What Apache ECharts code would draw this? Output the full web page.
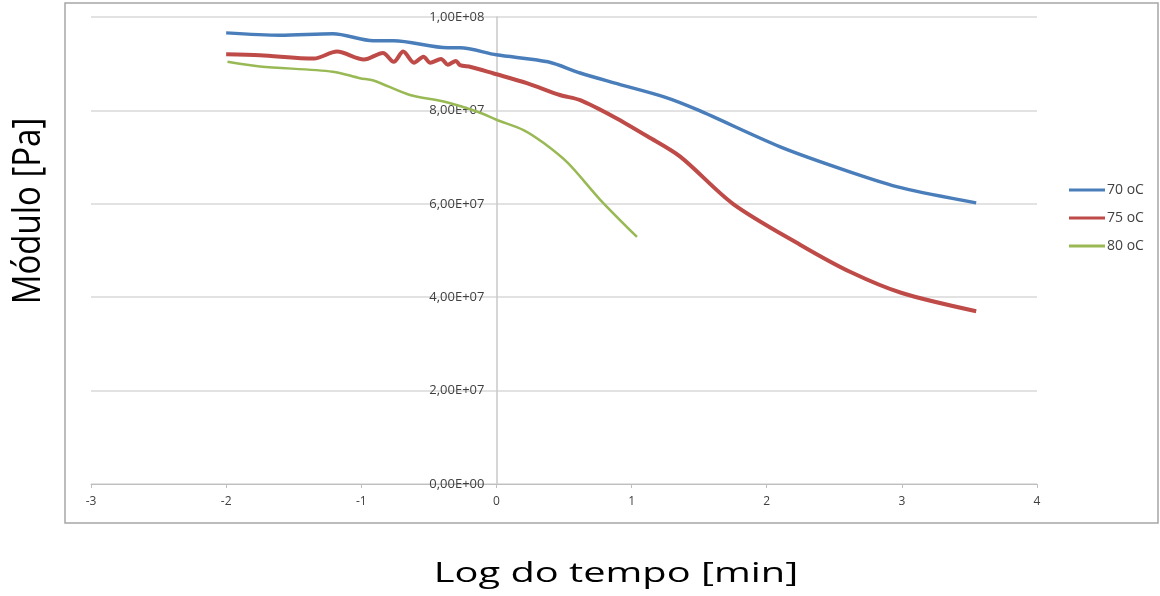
<!DOCTYPE html>
<html>
<head>
<meta charset="utf-8">
<script src="https://cdn.jsdelivr.net/npm/echarts@6/dist/echarts.min.js"></script>
<style>
  html, body { margin: 0; padding: 0; background: #fff; }
  #chart { width: 1160px; height: 596px; }
</style>
</head>
<body>
<div id="chart"></div>
<script>
// curvas: [log do tempo, módulo em 1e6 Pa]
const serie70 = [
    [-2.0, 96.6], [-1.6, 96.1], [-1.21, 96.4], [-0.91, 94.9], [-0.76, 94.9],
    [-0.36, 93.4], [-0.27, 93.4], [0.0, 91.9], [0.38, 90.4], [0.62, 88.0],
    [0.87, 85.9], [1.24, 82.9], [1.49, 80.1], [2.10, 72.2], [2.62, 66.8],
    [3.0, 63.4], [3.55, 60.2]
];
const serie75 = [
    [-2.0, 92.0], [-1.75, 91.8], [-1.35, 91.1], [-1.18, 92.6], [-0.98, 90.9],
    [-0.84, 92.3], [-0.76, 90.4], [-0.69, 92.6], [-0.61, 90.2], [-0.54, 91.5],
    [-0.49, 90.2], [-0.41, 91.0], [-0.36, 89.8], [-0.30, 90.6], [-0.27, 89.7],
    [-0.19, 89.3], [-0.02, 87.9], [0.23, 85.8], [0.47, 83.3], [0.62, 82.2],
    [0.87, 78.6], [1.12, 74.4], [1.36, 70.1], [1.75, 60.0], [2.25, 51.2],
    [2.62, 45.4], [3.0, 40.9], [3.55, 37.0]
];
const serie80 = [
    [-1.99, 90.4], [-1.75, 89.4], [-1.21, 88.3], [-1.01, 86.9], [-0.91, 86.4],
    [-0.64, 83.3], [-0.39, 81.9], [-0.14, 79.7], [0.0, 78.0], [0.20, 75.8],
    [0.35, 73.0], [0.53, 68.7], [0.77, 60.8], [1.04, 52.9]
];
const nomes = ['70 oC', '75 oC', '80 oC'];
const cores = ['#4a7ebb', '#be4b48', '#98b954'];

// 1,00E+08 etc.
function formatoCientifico(v) {
    if (v === 0) return '0,00E+00';
    const e = Math.floor(Math.log10(v) + 1e-9);
    const m = v / Math.pow(10, e);
    return m.toFixed(2).replace('.', ',') + 'E+' + (e < 10 ? '0' + e : e);
}

const chart = echarts.init(document.getElementById('chart'));
const toPa = arr => arr.map(p => [p[0], p[1] * 1e6]);

// eixo y desenhado em x = 0 (3 unidades de 7 a partir da esquerda)
const gridLeft = 91, gridRight = 123;
const larguraGrid = 1160 - gridLeft - gridRight;
const deslocY = -larguraGrid * 3 / 7;

chart.setOption({
    backgroundColor: '#ffffff',
    animation: false,
    textStyle: { fontFamily: 'Open Sans' },
    grid: { left: gridLeft, right: gridRight, top: 17, bottom: 112 },
    legend: {
        orient: 'vertical',
        left: 1064,
        top: 178,
        itemWidth: 36,
        itemHeight: 3,
        itemGap: 14,
        icon: 'rect',
        textStyle: { fontSize: 14, color: '#404040', padding: [0, 0, 0, -3] },
        data: nomes
    },
    xAxis: {
        type: 'value',
        min: -3,
        max: 4,
        interval: 1,
        splitLine: { show: false },
        axisLine: { onZero: false, lineStyle: { color: '#bfbfbf', width: 1 } },
        axisTick: { show: true, length: 4, lineStyle: { color: '#bfbfbf' } },
        axisLabel: { fontSize: 12, color: '#404040', margin: 12 }
    },
    yAxis: {
        type: 'value',
        min: 0,
        max: 1e8,
        interval: 2e7,
        offset: deslocY,
        axisLine: { show: true, onZero: false, lineStyle: { color: '#c8c8c8', width: 1.5 } },
        axisTick: { show: false },
        splitLine: { lineStyle: { color: '#d9d9d9', width: 1.5 } },
        axisLabel: { fontSize: 13, color: '#404040', margin: 12, formatter: formatoCientifico }
    },
    series: [serie70, serie75, serie80].map((s, i) => ({
        name: nomes[i],
        type: 'line',
        data: toPa(s),
        smooth: 0.3,
        showSymbol: false,
        lineStyle: { color: cores[i], width: [3.5, 4, 2.5][i] },
        itemStyle: { color: cores[i] }
    })),
    graphic: [
        {
            type: 'rect',
            shape: { x: 65, y: 3, width: 1093, height: 520 },
            style: { fill: 'none', stroke: '#a6a6a6', lineWidth: 1.5 },
            silent: true
        },
        {
            type: 'text',
            x: 29,
            y: 211,
            rotation: Math.PI / 2,
            scaleY: 1.15,
            style: {
                text: 'Módulo [Pa]',
                font: '33px "Open Sans"',
                fill: '#000',
                align: 'center',
                verticalAlign: 'middle'
            }
        },
        {
            type: 'text',
            x: 616,
            y: 574,
            scaleX: 1.42,
            style: {
                text: 'Log do tempo [min]',
                font: '28px "Open Sans"',
                fill: '#000',
                align: 'center',
                verticalAlign: 'middle'
            }
        }
    ]
});
</script>
</body>
</html>
